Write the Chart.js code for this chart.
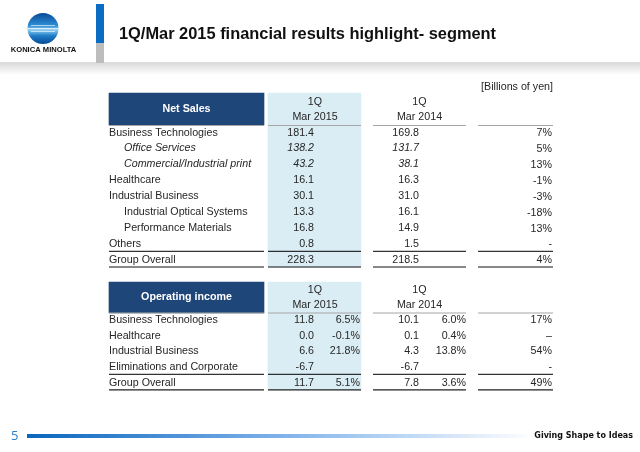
<!DOCTYPE html>
<html>
<head>
<meta charset="utf-8">
<title>1Q/Mar 2015 financial results highlight- segment</title>
<script src="https://cdn.jsdelivr.net/npm/chart.js@4/dist/chart.umd.min.js"></script>
<style>
html, body { margin: 0; padding: 0; background: #fff; }
canvas { display: block; }
</style>
</head>
<body>
<canvas id="myChart" width="640" height="452"></canvas>
<script>
// Table data
const salesRows = ['Business Technologies', 'Office Services', 'Commercial/Industrial print', 'Healthcare', 'Industrial Business', 'Industrial Optical Systems', 'Performance Materials', 'Others', 'Group Overall'];
const salesCurrent = [181.4, 138.2, 43.2, 16.1, 30.1, 13.3, 16.8, 0.8, 228.3];
const salesPrevious = [169.8, 131.7, 38.1, 16.3, 31.0, 16.1, 14.9, 1.5, 218.5];
const salesChange = ['7%', '5%', '13%', '-1%', '-3%', '-18%', '13%', '-', '4%'];

const incomeRows = ['Business Technologies', 'Healthcare', 'Industrial Business', 'Eliminations and Corporate', 'Group Overall'];
const incomeCurrent = [11.8, 0.0, 6.6, -6.7, 11.7];
const incomeCurrentMargin = [6.5, -0.1, 21.8, null, 5.1];
const incomePrevious = [10.1, 0.1, 4.3, -6.7, 7.8];
const incomePreviousMargin = [6.0, 0.4, 13.8, null, 3.6];
const incomeChange = ['17%', '–', '54%', '-', '49%'];

const periodHeaders = ['1Q', 'Mar 2015', 'Mar 2014'];

// Layout of the slide
const FONT = '"Liberation Sans", Arial, sans-serif';
const TEXT_COLOR = '#262626';
const BAND_COLOR = '#daedf4';
const NAVY = '#1f4679';
const salesTop = 132.6, salesPitch = 15.87;
const incomeTop = 320.4, incomePitch = 15.55;
const italicRows = [1, 2];
const indentedRows = [1, 2, 5, 6];

const salesY = i => salesTop + i * salesPitch;
const incomeY = i => incomeTop + i * incomePitch;

function fmt(v) {
    return v === null ? '' : v.toFixed(1);
}

function pct(v) {
    return v === null ? '' : v.toFixed(1) + '%';
}

// A column of text cells, drawn by the cellText plugin at its points
function cells(texts, x, rowY, align, extra) {
    return Object.assign({
        type: 'scatter',
        data: texts.map((t, i) => ({ x: x, y: rowY(i), text: t, rowIndex: i })),
        pointRadius: 0,
        showLine: false,
        cellAlign: align
    }, extra || {});
}

function band(x, width, top, bottom, color) {
    return {
        type: 'bar',
        data: [{ x: x, y: [top, bottom] }],
        backgroundColor: color,
        barThickness: width,
        grouped: false,
        order: 5
    };
}

function rule(x1, x2, y, color, width) {
    return {
        type: 'line',
        data: [{ x: x1, y: y }, { x: x2, y: y }],
        borderColor: color,
        borderWidth: width,
        pointRadius: 0,
        order: 1
    };
}

const blackRules = [];
[[109, 264], [268, 361], [373, 466], [478, 553]].forEach(([a, b]) => {
    blackRules.push(rule(a, b, 125.5, '#a6a6a6', 1));
    blackRules.push(rule(a, b, 251.3, '#000', 1));
    blackRules.push(rule(a, b, 267, '#111', 1));
    blackRules.push(rule(a, b, 313, '#a6a6a6', 1.2));
    blackRules.push(rule(a, b, 374.3, '#000', 1));
    blackRules.push(rule(a, b, 389.8, '#222', 1.2));
});

const datasets = [
    band(314.5, 93, 93, 267, BAND_COLOR),
    band(314.5, 93, 282, 390, BAND_COLOR),
    band(186.5, 155, 93, 125, NAVY),
    band(186.5, 155, 282, 313, NAVY),
    ...blackRules,

    // Net sales table
    cells(salesRows, 109, salesY, 'left', { isRowLabel: true }),
    cells(salesCurrent.map(fmt), 314, salesY, 'right', { hasItalics: true }),
    cells(salesPrevious.map(fmt), 419, salesY, 'right', { hasItalics: true }),
    cells(salesChange, 552, i => salesY(i) + 0.8, 'right'),

    // Operating income table
    cells(incomeRows, 109, incomeY, 'left'),
    cells(incomeCurrent.map(fmt), 314, incomeY, 'right'),
    cells(incomeCurrentMargin.map(pct), 360, incomeY, 'right'),
    cells(incomePrevious.map(fmt), 419, incomeY, 'right'),
    cells(incomePreviousMargin.map(pct), 466, incomeY, 'right'),
    cells(incomeChange, 552, incomeY, 'right')
];

// Draws the text of each cell dataset
const cellText = {
    id: 'cellText',
    afterDatasetsDraw(chart) {
        const ctx = chart.ctx;
        ctx.save();
        ctx.fillStyle = TEXT_COLOR;
        ctx.textBaseline = 'middle';
        chart.data.datasets.forEach((ds, d) => {
            if (!ds.cellAlign) return;
            chart.getDatasetMeta(d).data.forEach((pt, i) => {
                const row = ds.data[i];
                const italic = (ds.isRowLabel || ds.hasItalics) && italicRows.includes(i);
                const indent = ds.isRowLabel && indentedRows.includes(i) ? 15 : 0;
                ctx.font = (italic ? 'italic ' : '') + '10.7px ' + FONT;
                ctx.textAlign = ds.cellAlign;
                ctx.fillText(row.text, pt.x + indent, pt.y);
            });
        });
        ctx.restore();
    }
};

// Slide furniture: header, logo, footer and table headings
const slideFrame = {
    id: 'slideFrame',
    beforeDatasetsDraw(chart) {
        const ctx = chart.ctx;
        ctx.save();

        // shadow under the header
        const shadow = ctx.createLinearGradient(0, 62, 0, 75);
        shadow.addColorStop(0, '#d8d8d8');
        shadow.addColorStop(1, '#ffffff');
        ctx.fillStyle = shadow;
        ctx.fillRect(0, 62, 640, 13);

        // blue and grey marker
        ctx.fillStyle = '#0b6cc4';
        ctx.fillRect(96, 4, 8, 39);
        ctx.fillStyle = '#bdbdbd';
        ctx.fillRect(96, 43, 8, 20);

        // logo globe with its light stripes
        const globe = ctx.createLinearGradient(0, 14, 0, 43);
        globe.addColorStop(0, '#0a4f9c');
        globe.addColorStop(0.4, '#2f8fd6');
        globe.addColorStop(0.55, '#8fcdf0');
        globe.addColorStop(0.75, '#1f7cc8');
        globe.addColorStop(1, '#0a4f9c');
        ctx.fillStyle = globe;
        ctx.beginPath();
        ctx.arc(43, 28.5, 15.5, 0, Math.PI * 2);
        ctx.fill();
        ctx.clip();
        ctx.fillStyle = 'rgba(255,255,255,0.75)';
        ctx.fillRect(31, 25, 24, 0.8);
        ctx.fillRect(27, 28, 32, 1.2);
        ctx.fillRect(31, 31, 24, 0.8);
        ctx.restore();

        ctx.save();
        // footer line
        const line = ctx.createLinearGradient(27, 0, 535, 0);
        line.addColorStop(0, '#0a66bd');
        line.addColorStop(0.5, '#7fb2ea');
        line.addColorStop(1, '#ffffff');
        ctx.fillStyle = line;
        ctx.fillRect(27, 434, 508, 4);
        ctx.restore();
    },
    afterDatasetsDraw(chart) {
        const ctx = chart.ctx;
        ctx.save();
        ctx.textBaseline = 'middle';

        ctx.fillStyle = '#111';
        ctx.font = 'bold 7.6px ' + FONT;
        ctx.textAlign = 'center';
        ctx.fillText('KONICA MINOLTA', 43.5, 49.5);

        ctx.textAlign = 'left';
        ctx.font = 'bold 16.4px ' + FONT;
        ctx.fillText('1Q/Mar 2015 financial results highlight- segment', 119, 34.5);

        ctx.fillStyle = TEXT_COLOR;
        ctx.font = '10.7px ' + FONT;
        ctx.textAlign = 'right';
        ctx.fillText('[Billions of yen]', 553, 87.5);

        ctx.textAlign = 'center';
        ctx.fillText(periodHeaders[0], 315, 102);
        ctx.fillText(periodHeaders[1], 315, 117.5);
        ctx.fillText(periodHeaders[0], 419.5, 102);
        ctx.fillText(periodHeaders[2], 419.5, 117.5);
        ctx.fillText(periodHeaders[0], 315, 290);
        ctx.fillText(periodHeaders[1], 315, 305.5);
        ctx.fillText(periodHeaders[0], 419.5, 290);
        ctx.fillText(periodHeaders[2], 419.5, 305.5);

        ctx.fillStyle = '#fff';
        ctx.font = 'bold 10.7px ' + FONT;
        ctx.fillText('Net Sales', 186.5, 109.5);
        ctx.fillText('Operating income', 186.5, 297.5);

        ctx.fillStyle = '#2a7fc4';
        ctx.font = '13px "Open Sans", ' + FONT;
        ctx.textAlign = 'left';
        ctx.fillText('5', 11, 436);

        ctx.fillStyle = '#111';
        ctx.font = 'bold 8px "DejaVu Sans"';
        ctx.textAlign = 'right';
        ctx.fillText('Giving Shape to Ideas', 633, 436);
        ctx.restore();
    }
};

new Chart(document.getElementById('myChart').getContext('2d'), {
    type: 'bar',
    data: { datasets: datasets },
    options: {
        responsive: false,
        animation: false,
        layout: { padding: 0 },
        plugins: { legend: { display: false }, tooltip: { enabled: false } },
        scales: {
            x: { type: 'linear', min: 0, max: 640, display: false, offset: false },
            y: { type: 'linear', min: 0, max: 452, reverse: true, display: false }
        }
    },
    plugins: [slideFrame, cellText]
});
</script>
</body>
</html>
